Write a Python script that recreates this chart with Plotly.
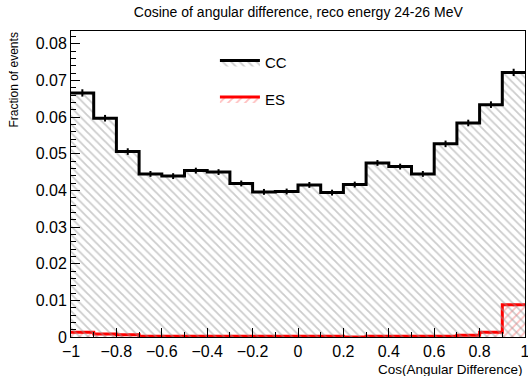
import numpy as np
import plotly.graph_objects as go

edges = [round(-1 + 0.1 * i, 1) for i in range(21)]
cc_vals = [0.0666, 0.0597, 0.0506, 0.0445, 0.0439, 0.0454, 0.0450, 0.0419, 0.0396, 0.0397,
           0.0415, 0.0394, 0.0416, 0.0475, 0.0465, 0.0445, 0.0527, 0.0584, 0.0634, 0.0722]
cc_err = [0.0010, 0.0009, 0.0009, 0.0008, 0.0008, 0.0008, 0.0008, 0.0008, 0.0008, 0.0008,
          0.0008, 0.0008, 0.0008, 0.0008, 0.0008, 0.0008, 0.0009, 0.0009, 0.0009, 0.0010]
es_vals = [0.0013, 0.0008, 0.0006, 0.0002, 0.0002, 0.0002, 0.0002, 0.0002, 0.0002, 0.0002,
           0.0002, 0.0002, 0.0000, 0.0002, 0.0002, 0.0002, 0.0002, 0.0005, 0.0013, 0.0088]
es_err = [0.0003, 0.0002, 0.0002, 0.0001, 0.0001, 0.0001, 0.0001, 0.0001, 0.0001, 0.0001,
          0.0001, 0.0001, 0.0000, 0.0001, 0.0001, 0.0001, 0.0001, 0.0002, 0.0003, 0.0004]

centers = [(edges[i] + edges[i + 1]) / 2 for i in range(len(edges) - 1)]
FONT = "Liberation Sans, Arial, sans-serif"

fig = go.Figure()

def add_hist(vals, errs, color, pattern_shape, pattern_color, name, rank):
    fig.add_trace(go.Scatter(
        x=edges, y=vals + [vals[-1]], mode="lines", line_shape="hv",
        line=dict(color=color, width=3), fill="tozeroy",
        fillcolor="rgba(0,0,0,0)",
        fillpattern=dict(shape=pattern_shape, fgcolor=pattern_color, bgcolor="rgba(0,0,0,0)",
                         size=6, solidity=0.3),
        name=name, legendgroup=name, legendrank=rank, showlegend=True))
    fig.add_trace(go.Scatter(
        x=centers, y=vals, mode="markers", marker=dict(size=1, color=color),
        error_y=dict(type="data", array=errs, color=color, thickness=2, width=0),
        legendgroup=name, legendrank=rank, showlegend=False, hoverinfo="skip"))

add_hist(es_vals, es_err, "#ff0000", "/", "#ff8080", "ES", 2)
add_hist(cc_vals, cc_err, "#000000", "\\", "#9a9a9a", "CC", 1)

fig.update_layout(
    width=528, height=376,
    margin=dict(l=71, r=3, t=31, b=39),
    paper_bgcolor="white", plot_bgcolor="white",
    font=dict(family=FONT, size=16, color="black"),
    title=dict(text="Cosine of angular difference, reco energy 24-26 MeV",
               x=0.565, xanchor="center", y=0.98, yanchor="top",
               font=dict(size=14)),
    showlegend=True,
    legend=dict(x=0.317, y=0.95, xanchor="left", yanchor="top",
                traceorder="grouped", bgcolor="rgba(0,0,0,0)",
                font=dict(size=15), itemwidth=40, tracegroupgap=14),
)
fig.update_xaxes(
    range=[-1, 1], showline=True, linecolor="black", linewidth=1, mirror=True,
    ticks="inside", ticklen=9, tickcolor="black", automargin=False,
    minor=dict(ticks="inside", ticklen=5, dtick=0.1, tickcolor="black"),
    showgrid=False, zeroline=False, ticklabelstandoff=0, ticklabeloverflow="allow",
    tickvals=[-1, -0.8, -0.6, -0.4, -0.2, 0, 0.2, 0.4, 0.6, 0.8, 1],
    ticktext=["\u22121", "\u22120.8", "\u22120.6", "\u22120.4", "\u22120.2", "0",
              "0.2", "0.4", "0.6", "0.8", "1"],
)
fig.update_yaxes(
    range=[0, 0.0835], showline=True, linecolor="black", linewidth=1, mirror=True,
    ticks="inside", ticklen=9, tickcolor="black", automargin=False,
    minor=dict(ticks="inside", ticklen=5, dtick=0.002, tickcolor="black"),
    showgrid=False, zeroline=False,
    tickvals=[0, 0.01, 0.02, 0.03, 0.04, 0.05, 0.06, 0.07, 0.08],
    ticktext=["0", "0.01", "0.02", "0.03", "0.04", "0.05", "0.06", "0.07", "0.08"],
)
fig.add_annotation(text="Cos(Angular Difference)", xref="paper", yref="paper",
                   x=1, y=0, xanchor="right", yanchor="top", yshift=-23,
                   showarrow=False, font=dict(size=13.5))
fig.add_annotation(text="Fraction of events", xref="paper", yref="paper",
                   x=0, y=1, xanchor="right", yanchor="top", xshift=-49,
                   textangle=-90, showarrow=False, font=dict(size=12))
fig.write_html("out.html", config={"displayModeBar": False},
               post_script="document.body.style.margin='0';document.body.style.overflow='hidden';")
